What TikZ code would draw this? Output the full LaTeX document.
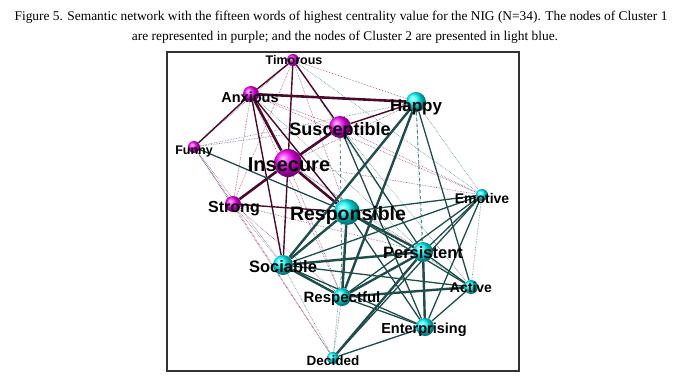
\documentclass[tikz,border=0pt]{standalone}
\usepackage{fontspec}
\setmainfont{Liberation Serif}
\setsansfont{Liberation Sans}
\usetikzlibrary{backgrounds}
\definecolor{maroonedge}{HTML}{4A0A2C}
\definecolor{tealedge}{HTML}{1E4D4A}
\definecolor{pinkdot}{HTML}{9A4A78}
\definecolor{tealdot}{HTML}{4E8A84}
\begin{document}
\begin{tikzpicture}[x=1pt, y=-1pt,
        purple node/.style={circle, shading=ball, ball color=magenta, minimum size=#1, inner sep=0pt},
        blue node/.style={circle, shading=ball, ball color=cyan, minimum size=#1, inner sep=0pt},
        word/.style={font=\sffamily\bfseries\fontsize{#1}{#1}\selectfont, inner sep=0pt, text=black},
        caption/.style={font=\fontsize{13.4}{15}\selectfont, inner sep=0pt},
        thick purple/.style={draw, line width=2.6pt, maroonedge},
        mid purple/.style={draw, line width=1.4pt, maroonedge},
        thick teal/.style={draw, line width=2.4pt, tealedge},
        mid teal/.style={draw, line width=1.3pt, tealedge},
        dot purple/.style={draw, densely dotted, line width=0.6pt, pinkdot},
        dot teal/.style={draw, densely dotted, line width=0.6pt, tealdot},
        dash teal/.style={draw, dashed, line width=0.9pt, tealdot},
    ]
	\useasboundingbox (0,0) rectangle (680,381);
	\node[caption] (cap1) at (341,17) {Figure 5. Semantic network with the fifteen words of highest centrality value for the NIG (N=34). The nodes of Cluster 1};
	\node[caption] (cap2) at (345,37) {are represented in purple; and the nodes of Cluster 2 are presented in light blue.};
	\draw[line width=1.1pt, black!80] (167,52) rectangle (519,371);
	% cluster 1
	\node[purple node=12pt] (tim) at (293,60) {};
	\node[purple node=16pt] (anx) at (251,94) {};
	\node[purple node=12pt] (fun) at (194,147) {};
	\node[purple node=28pt] (ins) at (288,163) {};
	\node[purple node=22pt] (sus) at (340,127) {};
	\node[purple node=16pt] (str) at (233,204) {};
	% cluster 2
	\node[blue node=20pt] (hap) at (416,102) {};
	\node[blue node=12pt] (emo) at (482,195) {};
	\node[blue node=26pt] (res) at (347,212) {};
	\node[blue node=20pt] (soc) at (283,265) {};
	\node[blue node=18pt] (rsp) at (342,297) {};
	\node[blue node=12pt] (dec) at (333,358) {};
	\node[blue node=20pt] (per) at (423,252) {};
	\node[blue node=14pt] (act) at (471,287) {};
	\node[blue node=18pt] (ent) at (425,327) {};
	\begin{pgfonlayer}{background}
	% weak links
	\draw[dot purple] (fun) -- (sus);
	\draw[dot purple] (fun) -- (tim);
	\draw[dot purple] (fun) -- (str);
	\draw[dot purple] (fun) -- (soc);
	\draw[dot purple] (fun) -- (dec);
	\draw[dot purple] (tim) -- (hap);
	\draw[dot purple] (tim) -- (res);
	\draw[dot purple] (tim) -- (str);
	\draw[dot purple] (anx) -- (str);
	\draw[dot purple] (anx) -- (rsp);
	\draw[dot purple] (anx) -- (emo);
	\draw[dot purple] (anx) -- (sus);
	\draw[dot purple] (ins) -- (emo);
	\draw[dot purple] (ins) -- (rsp);
	\draw[dot purple] (ins) -- (per);
	\draw[dot purple] (ins) -- (hap);
	\draw[dot purple] (sus) -- (emo);
	\draw[dot purple] (sus) -- (str);
	\draw[dot purple] (str) -- (dec);
	\draw[dot purple] (str) -- (rsp);
	\draw[dot purple] (str) -- (per);
	\draw[dot teal] (tim) -- (emo);
	\draw[dot teal] (tim) -- (per);
	\draw[dot teal] (anx) -- (per);
	\draw[dot teal] (fun) -- (hap);
	\draw[dot teal] (str) -- (soc);
	\draw[dot teal] (fun) -- (str);
	\draw[dot teal] (hap) -- (emo);
	\draw[dot teal] (hap) -- (ent);
	\draw[dot teal] (soc) -- (dec);
	\draw[dot teal] (rsp) -- (dec);
	\draw[dot teal] (emo) -- (act);
	\draw[dot teal] (ins) -- (act);
	\draw[dot teal] (sus) -- (act);
	\draw[dot teal] (res) -- (dec);
	\draw[dot teal] (ent) -- (dec);
	\draw[dash teal] (hap) -- (per);
	\draw[dash teal] (sus) -- (rsp);
	% cluster 1 links
	\draw[mid purple] (fun) -- (anx);
	\draw[mid purple] (anx) -- (tim);
	\draw[mid purple] (tim) -- (ins);
	\draw[mid purple] (tim) -- (sus);
	\draw[mid purple] (sus) -- (hap);
	\draw[mid purple] (str) -- (res);
	\draw[mid purple] (anx) -- (soc);
	\draw[mid purple] (ins) -- (soc);
	\draw[mid purple] (anx) -- (res);
	\draw[thick purple] (anx) -- (hap);
	\draw[thick purple] (anx) -- (ins);
	\draw[thick purple] (ins) -- (sus);
	\draw[thick purple] (ins) -- (str);
	\draw[thick purple] (ins) -- (res);
	% cluster 2 links
	\draw[mid teal] (fun) -- (res);
	\draw[mid teal] (hap) -- (act);
	\draw[mid teal] (sus) -- (per);
	\draw[mid teal] (sus) -- (ent);
	\draw[mid teal] (res) -- (emo);
	\draw[mid teal] (res) -- (act);
	\draw[mid teal] (res) -- (ent);
	\draw[mid teal] (soc) -- (emo);
	\draw[mid teal] (soc) -- (act);
	\draw[mid teal] (soc) -- (ent);
	\draw[mid teal] (rsp) -- (emo);
	\draw[mid teal] (rsp) -- (ent);
	\draw[mid teal] (per) -- (emo);
	\draw[mid teal] (per) -- (act);
	\draw[mid teal] (dec) -- (emo);
	\draw[mid teal] (dec) -- (ent);
	\draw[mid teal] (emo) -- (ent);
	\draw[mid teal] (act) -- (ent);
	\draw[thick teal] (hap) -- (soc);
	\draw[thick teal] (hap) -- (rsp);
	\draw[thick teal] (res) -- (soc);
	\draw[thick teal] (res) -- (rsp);
	\draw[thick teal] (res) -- (per);
	\draw[thick teal] (soc) -- (rsp);
	\draw[thick teal] (soc) -- (per);
	\draw[thick teal] (rsp) -- (per);
	\draw[thick teal] (rsp) -- (act);
	\draw[thick teal] (per) -- (ent);
	\draw[thick teal] (per) -- (dec);
	\end{pgfonlayer}
	% labels
	\node[word=12.5] (tim-l) at (294,60) {Timorous};
	\node[word=14.5] (anx-l) at (250,97) {Anxious};
	\node[word=12.5] (fun-l) at (194,151) {Funny};
	\node[word=20] (ins-l) at (289,165) {Insecure};
	\node[word=18] (sus-l) at (340,131) {Susceptible};
	\node[word=16] (str-l) at (234,209) {Strong};
	\node[word=17] (hap-l) at (416,107) {Happy};
	\node[word=14] (emo-l) at (482,198) {Emotive};
	\node[word=19.5] (res-l) at (348,215) {Responsible};
	\node[word=16.5] (soc-l) at (283,267) {Sociable};
	\node[word=15] (rsp-l) at (342,299) {Respectful};
	\node[word=13.5] (dec-l) at (333,361) {Decided};
	\node[word=16.5] (per-l) at (423,253) {Persistent};
	\node[word=14] (act-l) at (471,287) {Active};
	\node[word=14.5] (ent-l) at (424,330) {Enterprising};
\end{tikzpicture}
\end{document}
